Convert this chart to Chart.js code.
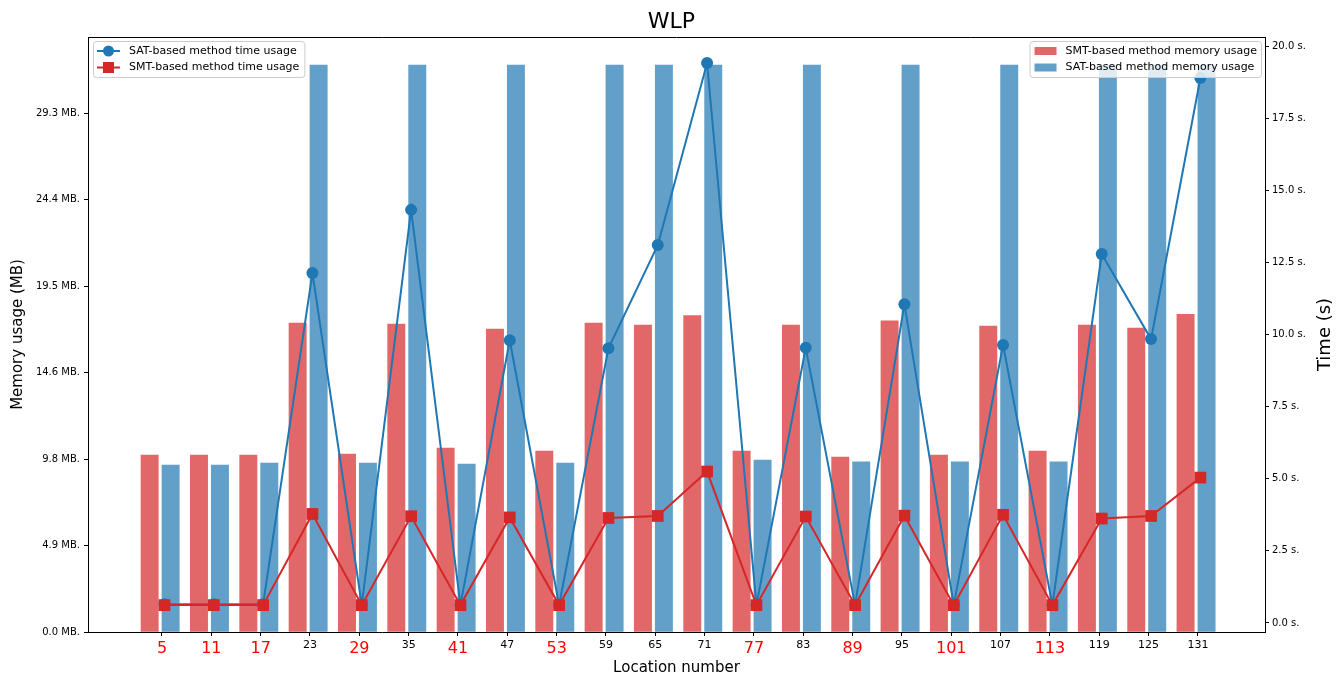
<!DOCTYPE html>
<html>
<head>
<meta charset="utf-8">
<title>WLP</title>
<script src="https://cdn.jsdelivr.net/npm/chart.js@4.4.1/dist/chart.umd.min.js"></script>
<style>
  body { margin: 0; background: #fff; }
  #wrap { width: 1343px; height: 677px; }
</style>
</head>
<body>
<div id="wrap"><canvas id="grafico"></canvas></div>
<script>
// location numbers (x axis)
const locations = [5, 11, 17, 23, 29, 35, 41, 47, 53, 59, 65, 71, 77, 83, 89, 95, 101, 107, 113, 119, 125, 131];
// locations written in red under the axis
const highlighted = [5, 11, 17, 29, 41, 53, 77, 89, 101, 113];

// memory usage in MB (bars)
const smtMemory = [9.99, 9.99, 9.99, 17.44, 10.05, 17.39, 10.39, 17.10, 10.22, 17.44, 17.33,
                   17.86, 10.22, 17.33, 9.88, 17.56, 9.99, 17.27, 10.22, 17.33, 17.16, 17.94];
const satMemory = [9.43, 9.43, 9.54, 32.0, 9.54, 32.0, 9.48, 32.0, 9.54, 32.0, 32.0,
                   32.0, 9.71, 32.0, 9.60, 32.0, 9.60, 32.0, 9.60, 32.0, 32.0, 32.0];

// time usage in seconds (lines)
const satTime = [0.65, 0.65, 0.65, 12.13, 0.62, 14.32, 0.62, 9.80, 0.62, 9.52, 13.10,
                 19.41, 0.62, 9.54, 0.62, 11.05, 0.62, 9.64, 0.62, 12.79, 9.84, 18.89];
const smtTime = [0.62, 0.62, 0.62, 3.78, 0.62, 3.70, 0.62, 3.66, 0.62, 3.64, 3.71,
                 5.25, 0.62, 3.69, 0.62, 3.72, 0.62, 3.75, 0.62, 3.62, 3.71, 5.04];

// legend texts
const lineLabels = ["SAT-based method time usage", "SMT-based method time usage"];
const barLabels = ["SMT-based method memory usage", "SAT-based method memory usage"];

const memStep = 5000 / 1024; // ticks every 5000 KB, shown in MB
const timeStep = 2.5;

const azul = "#1f77b4";
const vermelho = "#d62728";
const azulBarra = "rgba(31, 119, 180, 0.7)";
const vermelhoBarra = "rgba(214, 39, 40, 0.7)";

Chart.defaults.font.family = "'DejaVu Sans', sans-serif";
Chart.defaults.color = "#000";

// is the tick at this context one of the red ones?
function destacado(c) {
  if (!c || !c.tick) return false;
  return highlighted.includes(locations[c.tick.value]);
}

function roundRect(ctx, x, y, w, h, r) {
  ctx.beginPath();
  ctx.moveTo(x + r, y);
  ctx.lineTo(x + w - r, y);
  ctx.quadraticCurveTo(x + w, y, x + w, y + r);
  ctx.lineTo(x + w, y + h - r);
  ctx.quadraticCurveTo(x + w, y + h, x + w - r, y + h);
  ctx.lineTo(x + r, y + h);
  ctx.quadraticCurveTo(x, y + h, x, y + h - r);
  ctx.lineTo(x, y + r);
  ctx.quadraticCurveTo(x, y, x + r, y);
  ctx.closePath();
}

// frame top, right title and the two legends drawn by hand
const extras = {
  id: "extras",
  afterDraw(chart) {
    const ctx = chart.ctx;
    const a = chart.chartArea;
    ctx.save();

    ctx.strokeStyle = "#000";
    ctx.lineWidth = 1;
    ctx.beginPath();
    ctx.moveTo(a.left, a.top + 0.5);
    ctx.lineTo(a.right, a.top + 0.5);
    ctx.stroke();

    // right axis title, reading bottom to top
    ctx.save();
    ctx.font = "18px 'DejaVu Sans'";
    ctx.fillStyle = "#000";
    ctx.textAlign = "center";
    ctx.textBaseline = "middle";
    ctx.translate(a.right + 60, (a.top + a.bottom) / 2);
    ctx.rotate(-Math.PI / 2);
    ctx.fillText("Time (s)", 0, 0);
    ctx.restore();

    ctx.font = "11px 'DejaVu Sans'";
    ctx.textBaseline = "middle";
    ctx.textAlign = "left";

    // left legend (lines)
    let tw = Math.max(...lineLabels.map(t => ctx.measureText(t).width));
    let bx = a.left + 5, by = a.top + 4, bw = 36 + tw + 5, bh = 36;
    roundRect(ctx, bx + 0.5, by + 0.5, bw, bh, 3);
    ctx.fillStyle = "rgba(255,255,255,0.8)";
    ctx.fill();
    ctx.strokeStyle = "#cccccc";
    ctx.stroke();
    const lineCores = [azul, vermelho];
    lineLabels.forEach((t, k) => {
      const cy = by + 10 + k * 16.5;
      ctx.strokeStyle = lineCores[k];
      ctx.fillStyle = lineCores[k];
      ctx.lineWidth = 2;
      ctx.beginPath();
      ctx.moveTo(bx + 4, cy);
      ctx.lineTo(bx + 27, cy);
      ctx.stroke();
      ctx.beginPath();
      if (k === 0) {
        ctx.arc(bx + 15.5, cy, 5.5, 0, Math.PI * 2);
      } else {
        ctx.rect(bx + 15.5 - 5.5, cy - 5.5, 11, 11);
      }
      ctx.fill();
      ctx.fillStyle = "#000";
      ctx.fillText(t, bx + 36, cy);
    });

    // right legend (bars)
    tw = Math.max(...barLabels.map(t => ctx.measureText(t).width));
    bw = 36 + tw + 4;
    bx = a.right - 4 - bw;
    roundRect(ctx, bx + 0.5, by + 0.5, bw, bh, 3);
    ctx.fillStyle = "rgba(255,255,255,0.8)";
    ctx.fill();
    ctx.strokeStyle = "#cccccc";
    ctx.lineWidth = 1;
    ctx.stroke();
    const barCores = [vermelhoBarra, azulBarra];
    barLabels.forEach((t, k) => {
      const cy = by + 10 + k * 16.5;
      ctx.fillStyle = barCores[k];
      ctx.fillRect(bx + 5, cy - 4, 22, 8);
      ctx.fillStyle = "#000";
      ctx.fillText(t, bx + 36, cy);
    });

    ctx.restore();
  }
};

const grafico = document.getElementById("grafico");

new Chart(grafico, {
  type: "bar",
  data: {
    datasets: [
      {
        type: "line",
        label: lineLabels[1],
        data: smtTime.map((v, i) => ({ x: i + 0.05, y: v })),
        yAxisID: "y2",
        borderColor: vermelho,
        backgroundColor: vermelho,
        borderWidth: 2,
        pointStyle: "rect",
        pointRadius: 8.3,
        pointBorderWidth: 0,
        order: 0,
      },
      {
        type: "line",
        label: lineLabels[0],
        data: satTime.map((v, i) => ({ x: i + 0.05, y: v })),
        yAxisID: "y2",
        borderColor: azul,
        backgroundColor: azul,
        borderWidth: 2,
        pointStyle: "circle",
        pointRadius: 6,
        pointBorderWidth: 0,
        order: 1,
      },
      {
        label: barLabels[0],
        data: smtMemory.map((v, i) => ({ x: i - 0.25, y: v })),
        yAxisID: "y",
        backgroundColor: vermelhoBarra,
        borderWidth: 0,
        barThickness: 17.3,
        grouped: false,
        order: 2,
      },
      {
        label: barLabels[1],
        data: satMemory.map((v, i) => ({ x: i + 0.175, y: v })),
        yAxisID: "y",
        backgroundColor: azulBarra,
        borderWidth: 0,
        barThickness: 17.3,
        grouped: false,
        order: 3,
      },
    ],
  },
  options: {
    responsive: true,
    maintainAspectRatio: false,
    animation: false,
    layout: { padding: 0 },
    plugins: {
      legend: { display: false },
      tooltip: { enabled: false },
      title: {
        display: true,
        text: "WLP",
        color: "#000",
        font: { size: 22, weight: "normal" },
        padding: { top: 9.5, bottom: 1.1 },
      },
    },
    scales: {
      x: {
        type: "linear",
        min: -1.5,
        max: 22.36,
        offset: false,
        afterBuildTicks: (s) => { s.ticks = locations.map((l, i) => ({ value: i })); },
        afterFit: (s) => { s.height = 45; },
        border: { color: "#000", width: 1 },
        grid: { drawOnChartArea: false, offset: false, tickLength: 4, color: "#000" },
        ticks: {
          autoSkip: false,
          maxRotation: 0,
          padding: 3,
          callback: (v) => locations[v],
          color: (c) => destacado(c) ? "#ff0000" : "#000",
          font: (c) => ({ size: destacado(c) ? 16 : 11 }),
        },
        title: {
          display: true,
          text: "Location number",
          font: { size: 15 },
          padding: { top: 0, bottom: 0 },
        },
      },
      y: {
        position: "left",
        min: 0,
        max: 33.59,
        afterFit: (s) => { s.width = 88; },
        border: { color: "#000", width: 1 },
        grid: { drawOnChartArea: false, tickLength: 4, color: "#000" },
        ticks: {
          stepSize: memStep,
          includeBounds: false,
          padding: 4,
          font: { size: 10 },
          callback: (v) => v.toFixed(1) + " MB.",
        },
        title: {
          display: true,
          text: "Memory usage (MB)",
          font: { size: 15 },
          padding: { top: 9.5, bottom: 0 },
        },
      },
      y2: {
        position: "right",
        min: -0.312,
        max: 20.312,
        afterFit: (s) => { s.width = 78; },
        border: { color: "#000", width: 1 },
        grid: { drawOnChartArea: false, tickLength: 4, color: "#000" },
        ticks: {
          stepSize: timeStep,
          includeBounds: false,
          padding: 3,
          font: { size: 10 },
          callback: (v) => v.toFixed(1) + " s.",
        },
      },
    },
  },
  plugins: [extras],
});
</script>
</body>
</html>
